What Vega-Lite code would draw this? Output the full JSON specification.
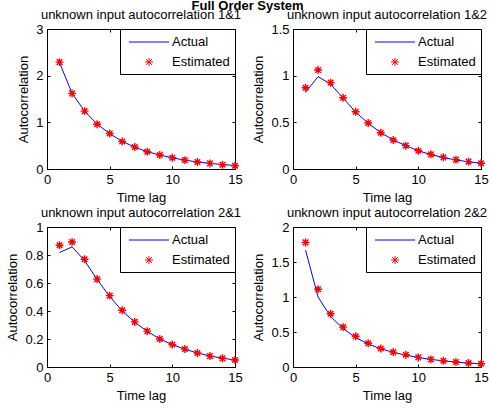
{
  "$schema": "https://vega.github.io/schema/vega-lite/v6.json",
  "padding": {"left": 6, "top": 0, "right": 0, "bottom": 5},
  "bounds": "flush",
  "title": {"text": "Full Order System", "fontWeight": "bold", "fontSize": 13, "anchor": "middle", "offset": -4.5},
  "datasets": {
    "d": [
      {"p": "11", "lag": 1, "s": "Actual", "v": 2.28}, {"p": "11", "lag": 2, "s": "Actual", "v": 1.62}, {"p": "11", "lag": 3, "s": "Actual", "v": 1.24}, {"p": "11", "lag": 4, "s": "Actual", "v": 0.96}, {"p": "11", "lag": 5, "s": "Actual", "v": 0.76}, {"p": "11", "lag": 6, "s": "Actual", "v": 0.59}, {"p": "11", "lag": 7, "s": "Actual", "v": 0.47}, {"p": "11", "lag": 8, "s": "Actual", "v": 0.37}, {"p": "11", "lag": 9, "s": "Actual", "v": 0.3}, {"p": "11", "lag": 10, "s": "Actual", "v": 0.24}, {"p": "11", "lag": 11, "s": "Actual", "v": 0.19}, {"p": "11", "lag": 12, "s": "Actual", "v": 0.15}, {"p": "11", "lag": 13, "s": "Actual", "v": 0.12}, {"p": "11", "lag": 14, "s": "Actual", "v": 0.095}, {"p": "11", "lag": 15, "s": "Actual", "v": 0.075},
      {"p": "11", "lag": 1, "s": "Estimated", "v": 2.29}, {"p": "11", "lag": 2, "s": "Estimated", "v": 1.62}, {"p": "11", "lag": 3, "s": "Estimated", "v": 1.24}, {"p": "11", "lag": 4, "s": "Estimated", "v": 0.96}, {"p": "11", "lag": 5, "s": "Estimated", "v": 0.76}, {"p": "11", "lag": 6, "s": "Estimated", "v": 0.59}, {"p": "11", "lag": 7, "s": "Estimated", "v": 0.47}, {"p": "11", "lag": 8, "s": "Estimated", "v": 0.37}, {"p": "11", "lag": 9, "s": "Estimated", "v": 0.3}, {"p": "11", "lag": 10, "s": "Estimated", "v": 0.24}, {"p": "11", "lag": 11, "s": "Estimated", "v": 0.19}, {"p": "11", "lag": 12, "s": "Estimated", "v": 0.15}, {"p": "11", "lag": 13, "s": "Estimated", "v": 0.12}, {"p": "11", "lag": 14, "s": "Estimated", "v": 0.09}, {"p": "11", "lag": 15, "s": "Estimated", "v": 0.07},
      {"p": "12", "lag": 1, "s": "Actual", "v": 0.82}, {"p": "12", "lag": 2, "s": "Actual", "v": 0.99}, {"p": "12", "lag": 3, "s": "Actual", "v": 0.91}, {"p": "12", "lag": 4, "s": "Actual", "v": 0.76}, {"p": "12", "lag": 5, "s": "Actual", "v": 0.61}, {"p": "12", "lag": 6, "s": "Actual", "v": 0.49}, {"p": "12", "lag": 7, "s": "Actual", "v": 0.39}, {"p": "12", "lag": 8, "s": "Actual", "v": 0.31}, {"p": "12", "lag": 9, "s": "Actual", "v": 0.25}, {"p": "12", "lag": 10, "s": "Actual", "v": 0.195}, {"p": "12", "lag": 11, "s": "Actual", "v": 0.155}, {"p": "12", "lag": 12, "s": "Actual", "v": 0.122}, {"p": "12", "lag": 13, "s": "Actual", "v": 0.097}, {"p": "12", "lag": 14, "s": "Actual", "v": 0.077}, {"p": "12", "lag": 15, "s": "Actual", "v": 0.062},
      {"p": "12", "lag": 1, "s": "Estimated", "v": 0.87}, {"p": "12", "lag": 2, "s": "Estimated", "v": 1.06}, {"p": "12", "lag": 3, "s": "Estimated", "v": 0.925}, {"p": "12", "lag": 4, "s": "Estimated", "v": 0.764}, {"p": "12", "lag": 5, "s": "Estimated", "v": 0.614}, {"p": "12", "lag": 6, "s": "Estimated", "v": 0.493}, {"p": "12", "lag": 7, "s": "Estimated", "v": 0.389}, {"p": "12", "lag": 8, "s": "Estimated", "v": 0.31}, {"p": "12", "lag": 9, "s": "Estimated", "v": 0.25}, {"p": "12", "lag": 10, "s": "Estimated", "v": 0.196}, {"p": "12", "lag": 11, "s": "Estimated", "v": 0.157}, {"p": "12", "lag": 12, "s": "Estimated", "v": 0.125}, {"p": "12", "lag": 13, "s": "Estimated", "v": 0.1}, {"p": "12", "lag": 14, "s": "Estimated", "v": 0.079}, {"p": "12", "lag": 15, "s": "Estimated", "v": 0.061},
      {"p": "21", "lag": 1, "s": "Actual", "v": 0.818}, {"p": "21", "lag": 2, "s": "Actual", "v": 0.858}, {"p": "21", "lag": 3, "s": "Actual", "v": 0.76}, {"p": "21", "lag": 4, "s": "Actual", "v": 0.625}, {"p": "21", "lag": 5, "s": "Actual", "v": 0.505}, {"p": "21", "lag": 6, "s": "Actual", "v": 0.4}, {"p": "21", "lag": 7, "s": "Actual", "v": 0.32}, {"p": "21", "lag": 8, "s": "Actual", "v": 0.255}, {"p": "21", "lag": 9, "s": "Actual", "v": 0.2}, {"p": "21", "lag": 10, "s": "Actual", "v": 0.16}, {"p": "21", "lag": 11, "s": "Actual", "v": 0.127}, {"p": "21", "lag": 12, "s": "Actual", "v": 0.1}, {"p": "21", "lag": 13, "s": "Actual", "v": 0.079}, {"p": "21", "lag": 14, "s": "Actual", "v": 0.063}, {"p": "21", "lag": 15, "s": "Actual", "v": 0.05},
      {"p": "21", "lag": 1, "s": "Estimated", "v": 0.87}, {"p": "21", "lag": 2, "s": "Estimated", "v": 0.893}, {"p": "21", "lag": 3, "s": "Estimated", "v": 0.77}, {"p": "21", "lag": 4, "s": "Estimated", "v": 0.628}, {"p": "21", "lag": 5, "s": "Estimated", "v": 0.51}, {"p": "21", "lag": 6, "s": "Estimated", "v": 0.405}, {"p": "21", "lag": 7, "s": "Estimated", "v": 0.322}, {"p": "21", "lag": 8, "s": "Estimated", "v": 0.256}, {"p": "21", "lag": 9, "s": "Estimated", "v": 0.2}, {"p": "21", "lag": 10, "s": "Estimated", "v": 0.161}, {"p": "21", "lag": 11, "s": "Estimated", "v": 0.128}, {"p": "21", "lag": 12, "s": "Estimated", "v": 0.1}, {"p": "21", "lag": 13, "s": "Estimated", "v": 0.078}, {"p": "21", "lag": 14, "s": "Estimated", "v": 0.062}, {"p": "21", "lag": 15, "s": "Estimated", "v": 0.05},
      {"p": "22", "lag": 1, "s": "Actual", "v": 1.67}, {"p": "22", "lag": 2, "s": "Actual", "v": 1.0}, {"p": "22", "lag": 3, "s": "Actual", "v": 0.72}, {"p": "22", "lag": 4, "s": "Actual", "v": 0.55}, {"p": "22", "lag": 5, "s": "Actual", "v": 0.42}, {"p": "22", "lag": 6, "s": "Actual", "v": 0.33}, {"p": "22", "lag": 7, "s": "Actual", "v": 0.26}, {"p": "22", "lag": 8, "s": "Actual", "v": 0.21}, {"p": "22", "lag": 9, "s": "Actual", "v": 0.17}, {"p": "22", "lag": 10, "s": "Actual", "v": 0.135}, {"p": "22", "lag": 11, "s": "Actual", "v": 0.108}, {"p": "22", "lag": 12, "s": "Actual", "v": 0.088}, {"p": "22", "lag": 13, "s": "Actual", "v": 0.07}, {"p": "22", "lag": 14, "s": "Actual", "v": 0.056}, {"p": "22", "lag": 15, "s": "Actual", "v": 0.046},
      {"p": "22", "lag": 1, "s": "Estimated", "v": 1.78}, {"p": "22", "lag": 2, "s": "Estimated", "v": 1.11}, {"p": "22", "lag": 3, "s": "Estimated", "v": 0.76}, {"p": "22", "lag": 4, "s": "Estimated", "v": 0.57}, {"p": "22", "lag": 5, "s": "Estimated", "v": 0.44}, {"p": "22", "lag": 6, "s": "Estimated", "v": 0.34}, {"p": "22", "lag": 7, "s": "Estimated", "v": 0.265}, {"p": "22", "lag": 8, "s": "Estimated", "v": 0.213}, {"p": "22", "lag": 9, "s": "Estimated", "v": 0.175}, {"p": "22", "lag": 10, "s": "Estimated", "v": 0.137}, {"p": "22", "lag": 11, "s": "Estimated", "v": 0.109}, {"p": "22", "lag": 12, "s": "Estimated", "v": 0.09}, {"p": "22", "lag": 13, "s": "Estimated", "v": 0.071}, {"p": "22", "lag": 14, "s": "Estimated", "v": 0.057}, {"p": "22", "lag": 15, "s": "Estimated", "v": 0.047}
    ]
  },
  "columns": 2,
  "spacing": {"row": 58, "column": 58},
  "concat": [
    {
      "title": "unknown input autocorrelation 1&1",
      "width": 188, "height": 140,
      "data": {"name": "d"},
      "transform": [{"filter": "datum.p == '11'"}],
      "layer": [
        {"transform": [{"filter": "datum.s == 'Actual'"}],
         "mark": {"type": "line", "strokeWidth": 1},
         "encoding": {
           "x": {"field": "lag", "type": "quantitative", "scale": {"domain": [0, 15]}, "axis": {"values": [0, 5, 10, 15], "title": "Time lag"}},
           "y": {"field": "v", "type": "quantitative", "scale": {"domain": [0, 3]}, "axis": {"values": [0, 1, 2, 3], "title": "Autocorrelation"}},
           "color": {"field": "s", "type": "nominal", "scale": {"domain": ["Actual", "Estimated"], "range": ["#0000ff", "#ff0000"]}, "legend": {"title": null}}
         }},
        {"transform": [{"filter": "datum.s == 'Estimated'"}],
         "mark": {"type": "point", "filled": false, "size": 225, "strokeWidth": 1.4, "opacity": 1},
         "encoding": {
           "x": {"field": "lag", "type": "quantitative", "scale": {"domain": [0, 15]}, "axis": {"orient": "top", "values": [0, 5, 10, 15], "labels": false, "title": null, "domain": false}},
           "y": {"field": "v", "type": "quantitative", "scale": {"domain": [0, 3]}, "axis": {"orient": "right", "values": [0, 1, 2, 3], "labels": false, "title": null, "domain": false}},
           "color": {"field": "s", "type": "nominal", "scale": {"domain": ["Actual", "Estimated"], "range": ["#0000ff", "#ff0000"]}, "legend": {"title": null}},
           "shape": {"field": "s", "type": "nominal", "scale": {"domain": ["Actual", "Estimated"], "range": ["M-2.667,0L2.667,0", "M-0.53,0L0.53,0M0,-0.53L0,0.53M-0.375,-0.375L0.375,0.375M-0.375,0.375L0.375,-0.375"]}, "legend": {"title": null}}
         }}
      ],
      "resolve": {"scale": {"x": "independent", "y": "independent"}}
    },
    {
      "title": "unknown input autocorrelation 1&2",
      "width": 188, "height": 140,
      "data": {"name": "d"},
      "transform": [{"filter": "datum.p == '12'"}],
      "layer": [
        {"transform": [{"filter": "datum.s == 'Actual'"}],
         "mark": {"type": "line", "strokeWidth": 1},
         "encoding": {
           "x": {"field": "lag", "type": "quantitative", "scale": {"domain": [0, 15]}, "axis": {"values": [0, 5, 10, 15], "title": "Time lag"}},
           "y": {"field": "v", "type": "quantitative", "scale": {"domain": [0, 1.5]}, "axis": {"values": [0, 0.5, 1, 1.5], "title": "Autocorrelation"}},
           "color": {"field": "s", "type": "nominal", "scale": {"domain": ["Actual", "Estimated"], "range": ["#0000ff", "#ff0000"]}, "legend": {"title": null}}
         }},
        {"transform": [{"filter": "datum.s == 'Estimated'"}],
         "mark": {"type": "point", "filled": false, "size": 225, "strokeWidth": 1.4, "opacity": 1},
         "encoding": {
           "x": {"field": "lag", "type": "quantitative", "scale": {"domain": [0, 15]}, "axis": {"orient": "top", "values": [0, 5, 10, 15], "labels": false, "title": null, "domain": false}},
           "y": {"field": "v", "type": "quantitative", "scale": {"domain": [0, 1.5]}, "axis": {"orient": "right", "values": [0, 0.5, 1, 1.5], "labels": false, "title": null, "domain": false}},
           "color": {"field": "s", "type": "nominal", "scale": {"domain": ["Actual", "Estimated"], "range": ["#0000ff", "#ff0000"]}, "legend": {"title": null}},
           "shape": {"field": "s", "type": "nominal", "scale": {"domain": ["Actual", "Estimated"], "range": ["M-2.667,0L2.667,0", "M-0.53,0L0.53,0M0,-0.53L0,0.53M-0.375,-0.375L0.375,0.375M-0.375,0.375L0.375,-0.375"]}, "legend": {"title": null}}
         }}
      ],
      "resolve": {"scale": {"x": "independent", "y": "independent"}}
    },
    {
      "title": "unknown input autocorrelation 2&1",
      "width": 188, "height": 140,
      "data": {"name": "d"},
      "transform": [{"filter": "datum.p == '21'"}],
      "layer": [
        {"transform": [{"filter": "datum.s == 'Actual'"}],
         "mark": {"type": "line", "strokeWidth": 1},
         "encoding": {
           "x": {"field": "lag", "type": "quantitative", "scale": {"domain": [0, 15]}, "axis": {"values": [0, 5, 10, 15], "title": "Time lag"}},
           "y": {"field": "v", "type": "quantitative", "scale": {"domain": [0, 1]}, "axis": {"values": [0, 0.2, 0.4, 0.6, 0.8, 1], "title": "Autocorrelation"}},
           "color": {"field": "s", "type": "nominal", "scale": {"domain": ["Actual", "Estimated"], "range": ["#0000ff", "#ff0000"]}, "legend": {"title": null}}
         }},
        {"transform": [{"filter": "datum.s == 'Estimated'"}],
         "mark": {"type": "point", "filled": false, "size": 225, "strokeWidth": 1.4, "opacity": 1},
         "encoding": {
           "x": {"field": "lag", "type": "quantitative", "scale": {"domain": [0, 15]}, "axis": {"orient": "top", "values": [0, 5, 10, 15], "labels": false, "title": null, "domain": false}},
           "y": {"field": "v", "type": "quantitative", "scale": {"domain": [0, 1]}, "axis": {"orient": "right", "values": [0, 0.2, 0.4, 0.6, 0.8, 1], "labels": false, "title": null, "domain": false}},
           "color": {"field": "s", "type": "nominal", "scale": {"domain": ["Actual", "Estimated"], "range": ["#0000ff", "#ff0000"]}, "legend": {"title": null}},
           "shape": {"field": "s", "type": "nominal", "scale": {"domain": ["Actual", "Estimated"], "range": ["M-2.667,0L2.667,0", "M-0.53,0L0.53,0M0,-0.53L0,0.53M-0.375,-0.375L0.375,0.375M-0.375,0.375L0.375,-0.375"]}, "legend": {"title": null}}
         }}
      ],
      "resolve": {"scale": {"x": "independent", "y": "independent"}}
    },
    {
      "title": "unknown input autocorrelation 2&2",
      "width": 188, "height": 140,
      "data": {"name": "d"},
      "transform": [{"filter": "datum.p == '22'"}],
      "layer": [
        {"transform": [{"filter": "datum.s == 'Actual'"}],
         "mark": {"type": "line", "strokeWidth": 1},
         "encoding": {
           "x": {"field": "lag", "type": "quantitative", "scale": {"domain": [0, 15]}, "axis": {"values": [0, 5, 10, 15], "title": "Time lag"}},
           "y": {"field": "v", "type": "quantitative", "scale": {"domain": [0, 2]}, "axis": {"values": [0, 0.5, 1, 1.5, 2], "title": "Autocorrelation"}},
           "color": {"field": "s", "type": "nominal", "scale": {"domain": ["Actual", "Estimated"], "range": ["#0000ff", "#ff0000"]}, "legend": {"title": null}}
         }},
        {"transform": [{"filter": "datum.s == 'Estimated'"}],
         "mark": {"type": "point", "filled": false, "size": 225, "strokeWidth": 1.4, "opacity": 1},
         "encoding": {
           "x": {"field": "lag", "type": "quantitative", "scale": {"domain": [0, 15]}, "axis": {"orient": "top", "values": [0, 5, 10, 15], "labels": false, "title": null, "domain": false}},
           "y": {"field": "v", "type": "quantitative", "scale": {"domain": [0, 2]}, "axis": {"orient": "right", "values": [0, 0.5, 1, 1.5, 2], "labels": false, "title": null, "domain": false}},
           "color": {"field": "s", "type": "nominal", "scale": {"domain": ["Actual", "Estimated"], "range": ["#0000ff", "#ff0000"]}, "legend": {"title": null}},
           "shape": {"field": "s", "type": "nominal", "scale": {"domain": ["Actual", "Estimated"], "range": ["M-2.667,0L2.667,0", "M-0.53,0L0.53,0M0,-0.53L0,0.53M-0.375,-0.375L0.375,0.375M-0.375,0.375L0.375,-0.375"]}, "legend": {"title": null}}
         }}
      ],
      "resolve": {"scale": {"x": "independent", "y": "independent"}}
    }
  ],
  "resolve": {"legend": {"color": "independent", "shape": "independent"}},
  "config": {
    "font": "Liberation Sans",
    "background": "white",
    "view": {"stroke": "black", "strokeWidth": 1},
    "axis": {
      "grid": false, "domainColor": "black", "tickColor": "black", "labelColor": "black", "titleColor": "black",
      "labelFontSize": 13, "titleFontSize": 13, "titleFontWeight": "normal", "tickSize": -3, "labelPadding": 7,
      "format": "~g", "labelFlush": false, "labelOverlap": false, "titlePadding": 5
    },
    "title": {"fontSize": 13, "fontWeight": "normal", "color": "black", "offset": 1},
    "legend": {
      "orient": "top-right", "offset": 0, "strokeColor": "black", "fillColor": "white", "padding": 5,
      "labelFontSize": 13, "labelColor": "black", "symbolSize": 225, "symbolOffset": 16, "labelOffset": 15,
      "rowPadding": 5, "symbolStrokeWidth": 1, "symbolFillColor": "transparent"
    }
  }
}
